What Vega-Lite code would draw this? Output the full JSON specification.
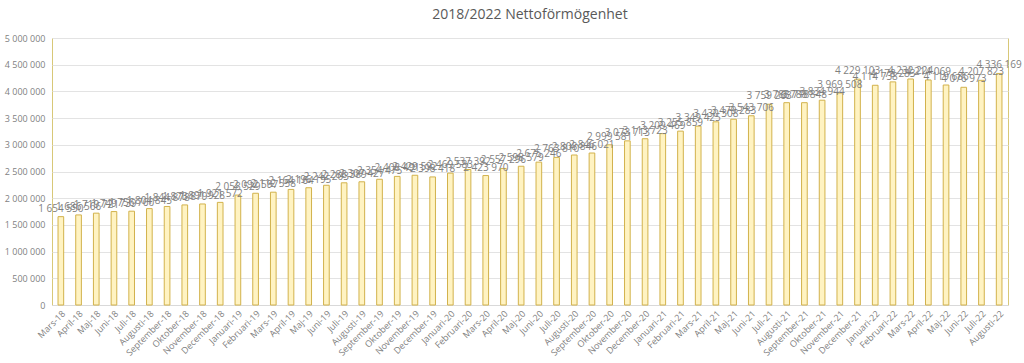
{
  "$schema": "https://vega.github.io/schema/vega-lite/v6.json",
  "width": 956,
  "height": 267,
  "padding": {"left": 4, "top": 8, "right": 14, "bottom": 0},
  "background": "white",
  "title": {
    "text": "2018/2022 Nettoförmögenhet",
    "fontSize": 14,
    "font": "Open Sans",
    "fontWeight": "normal",
    "color": "#595959",
    "offset": 12
  },
  "data": {
    "values": [
      {"m": "Mars-18", "v": 1654550},
      {"m": "April-18", "v": 1686566},
      {"m": "Maj-18", "v": 1719721},
      {"m": "Juni-18", "v": 1749739},
      {"m": "Juli-18", "v": 1756760},
      {"m": "Augusti-18", "v": 1804845},
      {"m": "September-18", "v": 1844878},
      {"m": "Oktober-18", "v": 1873879},
      {"m": "November-18", "v": 1891928},
      {"m": "December-18", "v": 1921572},
      {"m": "Januari-19", "v": 2058529},
      {"m": "Februari-19", "v": 2092597},
      {"m": "Mars-19", "v": 2112558},
      {"m": "April-19", "v": 2164164},
      {"m": "Maj-19", "v": 2196195},
      {"m": "Juni-19", "v": 2242203},
      {"m": "Juli-19", "v": 2288389},
      {"m": "Augusti-19", "v": 2307427},
      {"m": "September-19", "v": 2354475},
      {"m": "Oktober-19", "v": 2408491},
      {"m": "November-19", "v": 2429592},
      {"m": "December-19", "v": 2398418},
      {"m": "Januari-20", "v": 2469583},
      {"m": "Februari-20", "v": 2537392},
      {"m": "Mars-20", "v": 2423970},
      {"m": "April-20", "v": 2557296},
      {"m": "Maj-20", "v": 2598579},
      {"m": "Juni-20", "v": 2675246},
      {"m": "Juli-20", "v": 2763810},
      {"m": "Augusti-20", "v": 2808846},
      {"m": "September-20", "v": 2846021},
      {"m": "Oktober-20", "v": 2999581},
      {"m": "November-20", "v": 3073713},
      {"m": "December-20", "v": 3113723},
      {"m": "Januari-21", "v": 3209469},
      {"m": "Februari-21", "v": 3255859},
      {"m": "Mars-21", "v": 3349425},
      {"m": "April-21", "v": 3430308},
      {"m": "Maj-21", "v": 3479283},
      {"m": "Juni-21", "v": 3543706},
      {"m": "Juli-21", "v": 3759263},
      {"m": "Augusti-21", "v": 3788718},
      {"m": "September-21", "v": 3788848},
      {"m": "Oktober-21", "v": 3834944},
      {"m": "November-21", "v": 3969508},
      {"m": "December-21", "v": 4229103},
      {"m": "Januari-22", "v": 4114738},
      {"m": "Februari-22", "v": 4178283},
      {"m": "Mars-22", "v": 4232224},
      {"m": "April-22", "v": 4214069},
      {"m": "Maj-22", "v": 4119686},
      {"m": "Juni-22", "v": 4076973},
      {"m": "Juli-22", "v": 4207823},
      {"m": "Augusti-22", "v": 4336169}
    ]
  },
  "encoding": {
    "x": {
      "field": "m",
      "type": "nominal",
      "sort": null,
      "title": null,
      "scale": {"paddingInner": 0.68, "paddingOuter": 0.34},
      "axis": {
        "labelAngle": -45,
        "labelFont": "Open Sans",
        "labelFontSize": 9,
        "labelColor": "#7F7F7F",
        "ticks": false,
        "labelPadding": 4,
        "domainColor": "#D9D9D9",
        "labelOverlap": false
      }
    },
    "y": {
      "field": "v",
      "type": "quantitative",
      "title": null,
      "scale": {"domain": [0, 5000000], "nice": false},
      "axis": {
        "values": [0, 500000, 1000000, 1500000, 2000000, 2500000, 3000000, 3500000, 4000000, 4500000, 5000000],
        "format": ",d",
        "labelFont": "Open Sans",
        "labelFontSize": 9,
        "labelColor": "#7F7F7F",
        "ticks": false,
        "domain": false,
        "labelPadding": 7,
        "gridColor": "#E3E3E3"
      }
    }
  },
  "layer": [
    {
      "mark": {"type": "bar", "fill": "#FFF3C2", "stroke": "#D2B24C", "strokeWidth": 1}
    },
    {
      "mark": {"type": "text", "baseline": "bottom", "dy": -3, "font": "Open Sans", "fontSize": 10, "color": "#7F7F7F"},
      "encoding": {"text": {"field": "v", "type": "quantitative", "format": ",d"}}
    }
  ],
  "config": {
    "locale": {"number": {"decimal": ",", "thousands": " ", "grouping": [3], "currency": ["", " kr"]}},
    "view": {"stroke": "#D8C878", "strokeWidth": 1}
  }
}
